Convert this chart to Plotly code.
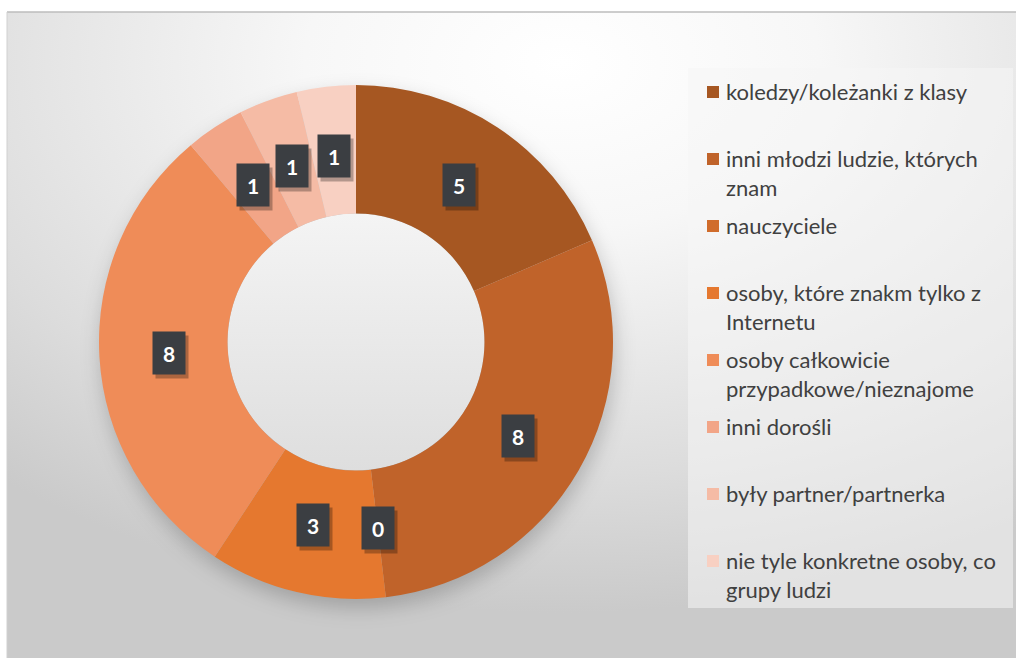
import base64
import math
import plotly.graph_objects as go

# ---- data ----
categories = [
    "koledzy/koleżanki z klasy",
    "inni młodzi ludzie, których<br>znam",
    "nauczyciele",
    "osoby, które znakm tylko z<br>Internetu",
    "osoby całkowicie<br>przypadkowe/nieznajome",
    "inni dorośli",
    "były partner/partnerka",
    "nie tyle konkretne osoby, co<br>grupy ludzi",
]
values = [5, 8, 0, 3, 8, 1, 1, 1]
colors = ["#A65722", "#C0632A", "#D06C2B", "#E5782F", "#EF8C58",
          "#F2A587", "#F5BBA5", "#F8D0C2"]

# ---- layout constants ----
W, H = 1019, 661
CX, CY, R = 356, 342, 257       # donut centre / outer radius (px)
HOLE = 0.5
LABEL_R = 0.73 * R

def px(x):
    return x / W

def py(y):
    return 1 - y / H

fig = go.Figure(go.Pie(
    labels=[c.replace("<br>", " ") for c in categories],
    values=values,
    hole=HOLE,
    sort=False,
    direction="clockwise",
    rotation=0,
    marker=dict(colors=colors, line=dict(width=0)),
    textinfo="none",
    hoverinfo="label+value",
    showlegend=False,
    domain=dict(x=[px(CX - R), px(CX + R)], y=[py(CY + R), py(CY - R)]),
))

# ---- background image (gradient + donut shadow) ----
x0, y0, x1, y1 = 7, 12, 1016, 658
svg = f'''<svg xmlns="http://www.w3.org/2000/svg" width="{W}" height="{H}" viewBox="0 0 {W} {H}">
<defs>
<radialGradient id="bg" cx="0.55" cy="0.08" r="0.85">
<stop offset="0" stop-color="#ffffff"/>
<stop offset="0.3" stop-color="#f7f7f7"/>
<stop offset="0.75" stop-color="#dcdcdc"/>
<stop offset="1" stop-color="#cacaca"/>
</radialGradient>
<linearGradient id="hole" x1="0" y1="0" x2="0" y2="1">
<stop offset="0" stop-color="#f4f4f4"/>
<stop offset="1" stop-color="#dedede"/>
</linearGradient>
<filter id="blur" x="-30%" y="-30%" width="160%" height="160%"><feGaussianBlur stdDeviation="10"/></filter>
</defs>
<rect x="0" y="0" width="{W}" height="{H}" fill="#ffffff"/>
<rect x="{x0}" y="{y0}" width="{x1-x0}" height="{y1-y0}" fill="url(#bg)"/>
<line x1="{x0}" y1="{y0}" x2="{x1}" y2="{y0}" stroke="#bdbdbd" stroke-width="1.5"/>
<line x1="{x0}" y1="{y0}" x2="{x0}" y2="{y1}" stroke="#d0d0d0" stroke-width="1"/>
<circle cx="{CX+2}" cy="{CY+9}" r="{R}" fill="#000000" fill-opacity="0.2" filter="url(#blur)"/>
<circle cx="{CX}" cy="{CY}" r="{R*HOLE}" fill="url(#hole)"/>
</svg>'''
uri = "data:image/svg+xml;base64," + base64.b64encode(svg.encode("utf-8")).decode()

fig.add_layout_image(dict(source=uri, xref="paper", yref="paper", x=0, y=1,
                          sizex=1, sizey=1, xanchor="left", yanchor="top",
                          sizing="stretch", layer="below"))

# ---- value labels (dark boxes) ----
total = sum(values)
cum = 0
annotations = []
for v in values:
    mid = (cum + v / 2) / total * 2 * math.pi
    cum += v
    lx = CX + LABEL_R * math.sin(mid)
    ly = CY - LABEL_R * math.cos(mid)
    annotations.append(dict(x=px(lx + 3), y=py(ly + 4), xref="paper", yref="paper",
                            text=" ", showarrow=False, width=30, height=40,
                            bgcolor="rgba(0,0,0,0.28)", xanchor="center", yanchor="middle"))
    annotations.append(dict(x=px(lx), y=py(ly), xref="paper", yref="paper",
                            text=f"<b>{v}</b>", showarrow=False, width=30, height=40,
                            bgcolor="#3b3e42",
                            font=dict(family="Lato, Open Sans, sans-serif", size=21, color="white"),
                            xanchor="center", yanchor="middle"))

# ---- custom legend ----
shapes = [dict(type="rect", xref="paper", yref="paper",
               x0=px(688), x1=px(1013), y0=py(608), y1=py(68),
               fillcolor="rgba(246,246,246,0.55)", line=dict(width=0), layer="below")]
LEG_Y0, LEG_STEP, SQ = 92, 67, 12
for i, (lab, col) in enumerate(zip(categories, colors)):
    yc = LEG_Y0 + i * LEG_STEP
    shapes.append(dict(type="rect", xref="paper", yref="paper",
                       x0=px(707), x1=px(707 + SQ), y0=py(yc + SQ / 2), y1=py(yc - SQ / 2),
                       fillcolor=col, line=dict(width=0)))
    annotations.append(dict(x=px(725), y=py(yc - 15), xref="paper", yref="paper",
                            text=lab, showarrow=False, xanchor="left", yanchor="top",
                            align="left", borderpad=0,
                            font=dict(family="Lato, Open Sans, sans-serif", size=22, color="#404040")))

fig.update_layout(
    width=W, height=H,
    margin=dict(l=0, r=0, t=0, b=0),
    paper_bgcolor="#ffffff",
    plot_bgcolor="rgba(0,0,0,0)",
    annotations=annotations,
    shapes=shapes,
    showlegend=False,
)

fig.write_html("out.html", config={"displayModeBar": False},
               post_script="document.body.style.margin='0';document.body.style.padding='0';")
